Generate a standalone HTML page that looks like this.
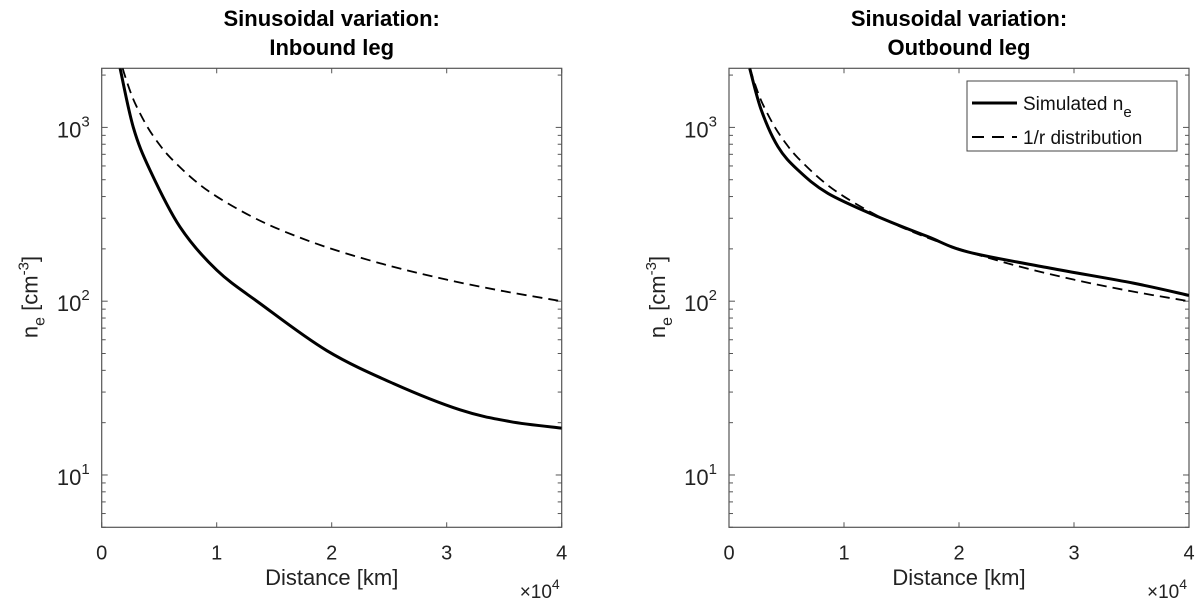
<!DOCTYPE html>
<html><head><meta charset="utf-8">
<style>
body{margin:0;background:#fff;font-family:"Liberation Sans",Helvetica,sans-serif;}
svg text{font-family:"Liberation Sans",Helvetica,sans-serif;}
</style></head>
<body>
<svg id="chart" width="1200" height="604" viewBox="0 0 1200 604" xmlns="http://www.w3.org/2000/svg"></svg>
<script>
const xTicks=[0,1,2,3,4];
const yDecades=[1,2,3];
const inboundDist=[1600,2750,4200,6800,10000,13770,19565,25360,31160,35500,40000];
const inboundSim=[2188,1000,568,268,151,97,52,33.6,23.7,20.3,18.6];
const outboundDist=[1800,2810,4260,6000,8610,12960,17300,20780,27920,35160,40000];
const outboundSim=[2188,1257,774,568,417,306,235,192,155,127,108];
const invDist=[1828,2000,2500,3000,4000,5000,6000,8000,10000,13000,16000,20000,25000,30000,35000,40000];
const invVals=[2188,2000,1600,1333,1000,800,667,500,400,308,250,200,160,133,114,100];
const svg=document.getElementById('chart');
const NS='http://www.w3.org/2000/svg';
function el(t,a,p){const e=document.createElementNS(NS,t);for(const k in a)e.setAttribute(k,a[k]);(p||svg).appendChild(e);return e;}
const yTop=68.3,yBot=527.3,logMin=Math.log10(5),logMax=Math.log10(2188);
function Y(v){return yBot-(Math.log10(v)-logMin)/(logMax-logMin)*(yBot-yTop);}
function smooth(pts){
  let d='M'+pts[0][0]+','+pts[0][1];
  for(let i=0;i<pts.length-1;i++){
    const p0=pts[Math.max(0,i-1)],p1=pts[i],p2=pts[i+1],p3=pts[Math.min(pts.length-1,i+2)];
    const c1=[p1[0]+(p2[0]-p0[0])/6,p1[1]+(p2[1]-p0[1])/6];
    const c2=[p2[0]-(p3[0]-p1[0])/6,p2[1]-(p3[1]-p1[1])/6];
    d+='C'+c1[0]+','+c1[1]+' '+c2[0]+','+c2[1]+' '+p2[0]+','+p2[1];
  }
  return d;
}
function makePanel(x0,title2,dist,sim,legend,name){
  const W=460;
  const X=v=>x0+v/40000*W;
  const g=el('g',{});
  
  
  const clip=el('clipPath',{id:'c'+name},g);
  el('rect',{x:x0,y:yTop,width:W,height:yBot-yTop},clip);
  xTicks.forEach(t=>{const x=x0+t*W/4;
    el('line',{x1:x,x2:x,y1:yBot,y2:yBot-5,stroke:'#555'},g);
    el('line',{x1:x,x2:x,y1:yTop,y2:yTop+5,stroke:'#555'},g);
    const tx=el('text',{x:x,y:yBot+32,'font-size':20,'text-anchor':'middle',fill:'#222'},g);tx.textContent=t;
    
    
  });
  for(let d=0;d<=3;d++)for(let m=1;m<10;m++){const v=m*Math.pow(10,d);if(v<5||v>2188)continue;const y=Y(v);const len=m==1?6:4;
    el('line',{x1:x0,x2:x0+len,y1:y,y2:y,stroke:'#555'},g);
    el('line',{x1:x0+W,x2:x0+W-len,y1:y,y2:y,stroke:'#555'},g);}
  yDecades.forEach(d=>{const y=Y(Math.pow(10,d));
    const t=el('text',{x:x0-12,y:y+10,'font-size':22,'text-anchor':'end',fill:'#222'},g);
    t.innerHTML='10<tspan font-size="15" dy="-11">'+d+'</tspan>';
    
    });
  el('rect',{x:x0,y:yTop,width:W,height:yBot-yTop,fill:'none',stroke:'#555','stroke-width':1.2},g);
  const cg=el('g',{'clip-path':'url(#c'+name+')'},g);
  const p1=el('path',{d:smooth(invDist.map((r,i)=>[X(r),Y(invVals[i])])),fill:'none',stroke:'#000','stroke-width':1.8,'stroke-dasharray':'10,6'},cg);
  
  
  const p2=el('path',{d:smooth(dist.map((r,i)=>[X(r),Y(sim[i])])),fill:'none',stroke:'#000','stroke-width':3,'stroke-linejoin':'round'},cg);
  
  
  const cx=x0+W/2;
  const t1=el('text',{x:cx,y:26,'font-size':22,'font-weight':'bold','text-anchor':'middle'},g);t1.textContent='Sinusoidal variation:';
  
  
  const t2=el('text',{x:cx,y:55,'font-size':22,'font-weight':'bold','text-anchor':'middle'},g);t2.textContent=title2;
  
  
  const xl=el('text',{x:cx,y:585,'font-size':22,'text-anchor':'middle',fill:'#222'},g);xl.textContent='Distance [km]';
  
  
  const xm=el('text',{x:x0+W-42,y:598,'font-size':19,fill:'#222'},g);xm.innerHTML='×10<tspan font-size="14" dy="-9">4</tspan>';
  
  
  const yl=el('text',{transform:'translate('+(x0-64)+',297) rotate(-90)','font-size':22,'text-anchor':'middle',fill:'#222'},g);
  yl.innerHTML='n<tspan font-size="16" dy="7">e</tspan><tspan dy="-7"> [cm</tspan><tspan font-size="15" dy="-9">-3</tspan><tspan dy="9">]</tspan>';
  
  
  if(legend){
    const lg=el('g',{},g);
    
    
    el('rect',{x:967,y:81,width:210,height:70,fill:'#fff',stroke:'#444'},lg);
    el('line',{x1:972,x2:1017,y1:103,y2:103,stroke:'#000','stroke-width':3},lg);
    el('line',{x1:972,x2:1017,y1:137,y2:137,stroke:'#000','stroke-width':2,'stroke-dasharray':'12,8'},lg);
    const a=el('text',{x:1023,y:110,'font-size':19,fill:'#111'},lg);a.innerHTML='Simulated n<tspan font-size="15" dy="7">e</tspan>';
    
    
    const b=el('text',{x:1023,y:144,'font-size':19,fill:'#111'},lg);b.textContent='1/r distribution';
    
    
  }
}
makePanel(101.7,'Inbound leg',inboundDist,inboundSim,false,'inbound-panel');
makePanel(729,'Outbound leg',outboundDist,outboundSim,true,'outbound-panel');
</script>
</body></html>
